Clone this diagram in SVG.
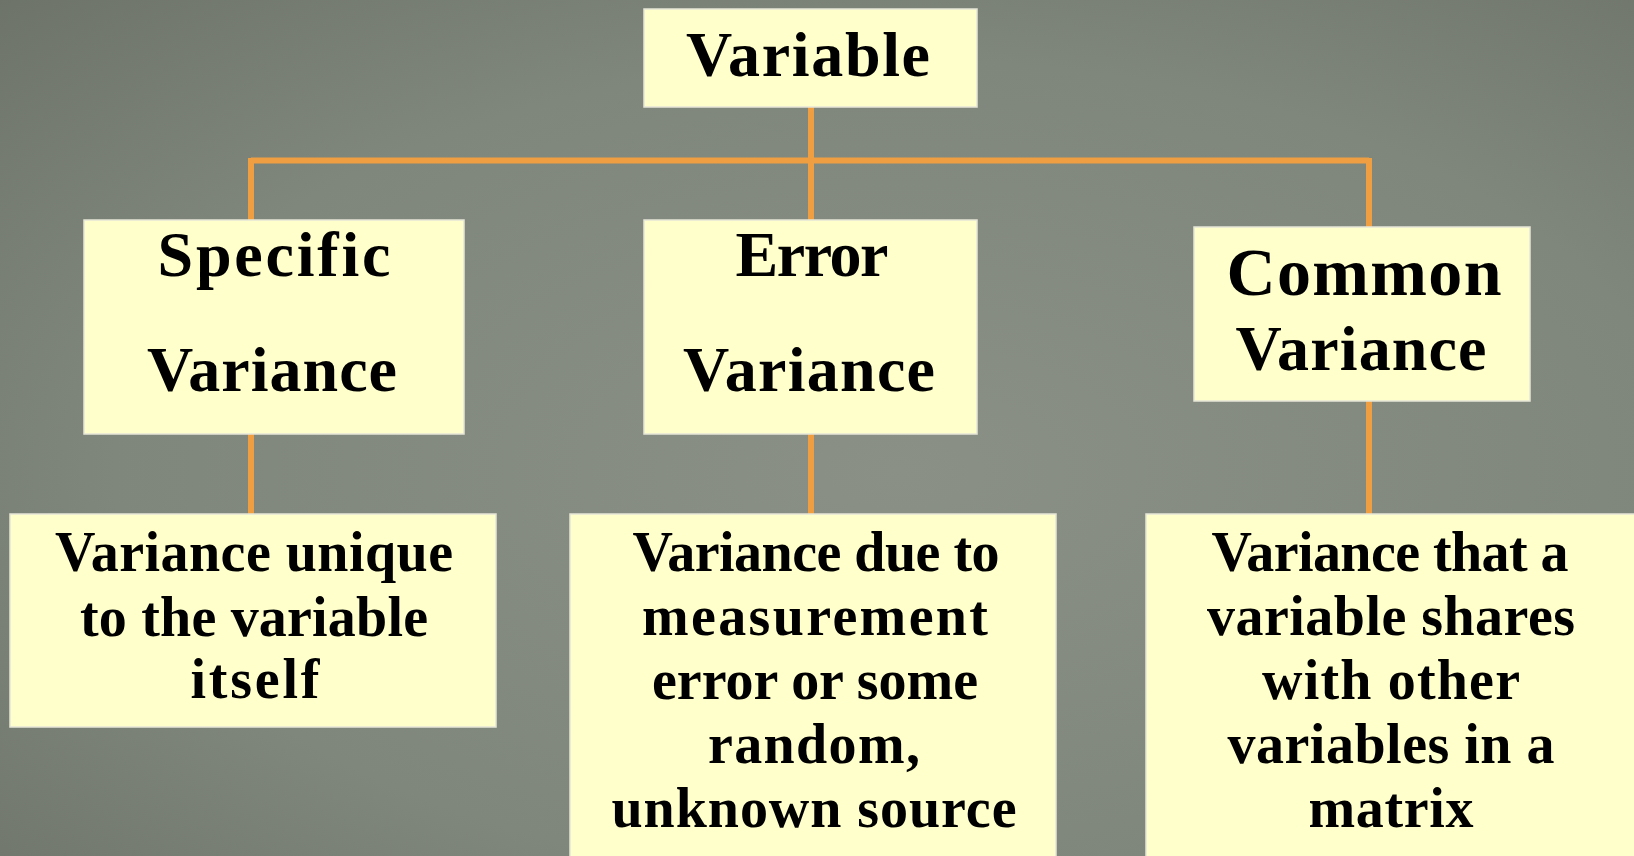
<svg xmlns="http://www.w3.org/2000/svg" width="1634" height="856" viewBox="0 0 1634 856">
<defs>
<radialGradient id="bg" cx="0.55" cy="0.55" r="0.8">
<stop offset="0" stop-color="#8a9086"/>
<stop offset="0.6" stop-color="#7f867b"/>
<stop offset="1" stop-color="#6c7268"/>
</radialGradient>
<style>
.box{fill:#ffffcc;stroke:#e6e6d8;stroke-width:1.5}
.conn{stroke:#f09e42;stroke-width:6;fill:none}
.t{font-family:"Liberation Serif","Times New Roman",serif;font-weight:bold;fill:#000;text-anchor:middle}
.h{font-size:64px}
.b{font-size:56px}
</style>
</defs>
<rect width="1634" height="856" fill="url(#bg)"/>
<g id="connectors">
<path class="conn" d="M811 107V220"/>
<path class="conn" d="M251 160.5H1369"/>
<path class="conn" d="M251 158V220"/>
<path class="conn" d="M1369 158V227"/>
<path class="conn" d="M251 434V514"/>
<path class="conn" d="M811 434V514"/>
<path class="conn" d="M1369 401V514"/>
</g>
<g id="variable">
<rect class="box" x="644" y="9" width="333" height="98"/>
<text class="t h" x="808" y="76" textLength="244">Variable</text>
</g>
<g id="specific">
<rect class="box" x="84" y="220" width="380" height="214"/>
<text class="t h" x="274" y="276" textLength="233">Specific</text>
<text class="t h" x="272" y="391" textLength="250">Variance</text>
</g>
<g id="error">
<rect class="box" x="644" y="220" width="333" height="214"/>
<text class="t h" x="812" y="276" textLength="153">Error</text>
<text class="t h" x="809" y="391" textLength="252">Variance</text>
</g>
<g id="common">
<rect class="box" x="1194" y="227" width="336" height="174"/>
<text class="t" x="1364" y="295" style="font-size:68px" textLength="275">Common</text>
<text class="t h" x="1361" y="370" textLength="251">Variance</text>
</g>
<g id="specific-desc">
<rect class="box" x="10" y="514" width="486" height="213"/>
<text class="t b" x="254" y="571" textLength="398">Variance unique</text>
<text class="t b" x="254" y="636" textLength="348">to the variable</text>
<text class="t b" x="255" y="698" textLength="129">itself</text>
</g>
<g id="error-desc">
<rect class="box" x="570" y="514" width="486" height="346"/>
<text class="t b" x="816" y="571" textLength="367">Variance due to</text>
<text class="t b" x="815" y="635" textLength="346">measurement</text>
<text class="t b" x="815" y="699" textLength="326">error or some</text>
<text class="t b" x="814" y="763" textLength="212">random,</text>
<text class="t b" x="814" y="827" textLength="405">unknown source</text>
</g>
<g id="common-desc">
<rect class="box" x="1146" y="514" width="490" height="346"/>
<text class="t b" x="1390" y="571" textLength="357">Variance that a</text>
<text class="t b" x="1391" y="635" textLength="368">variable shares</text>
<text class="t b" x="1391" y="699" textLength="258">with other</text>
<text class="t b" x="1391" y="763" textLength="327">variables in a</text>
<text class="t b" x="1391" y="827" textLength="165">matrix</text>
</g>
</svg>
